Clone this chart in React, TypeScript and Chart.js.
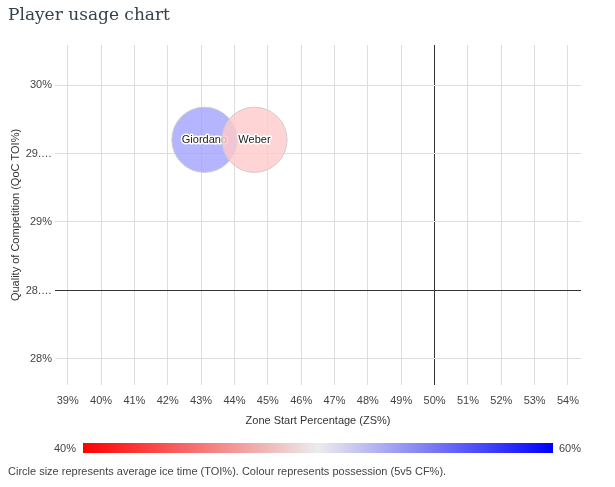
import React, { useEffect, useRef } from 'react';
import { Chart, registerables } from 'chart.js';

Chart.register(...registerables);

// ---- data ----
const players = ['Giordano', 'Weber'];
const zoneStartPct = [43.1, 44.6];
const qocToiPct = [29.6, 29.6];
const corsiForPct = [53.7, 47.9];
const bubbleRadius = [32.6, 32.6];

const xTickValues = [39, 40, 41, 42, 43, 44, 45, 46, 47, 48, 49, 50, 51, 52, 53, 54];
const xTickLabels = ['39%', '40%', '41%', '42%', '43%', '44%', '45%', '46%', '47%', '48%', '49%', '50%', '51%', '52%', '53%', '54%'];
const yTickValues = [28, 28.5, 29, 29.5, 30];
const yTickLabels = ['28%', '28.…', '29%', '29.…', '30%'];

const xReferenceLine = 50;
const yReferenceLine = 28.5;
const colourMin = 40;
const colourMax = 60;
const colourMinLabel = '40%';
const colourMaxLabel = '60%';

const FONT = '"Liberation Sans", Arial, sans-serif';
const RED = [255, 0, 0];
const MID = [255, 255, 255];
const BLUE = [0, 0, 255];

function colourFor(v: number, alpha: number) {
  const t = Math.max(0, Math.min(1, (v - colourMin) / (colourMax - colourMin)));
  let a: number[], b: number[], f: number;
  if (t < 0.5) { a = RED; b = MID; f = t / 0.5; } else { a = MID; b = BLUE; f = (t - 0.5) / 0.5; }
  const c = a.map((x, i) => Math.round(x + (b[i] - x) * f));
  return `rgba(${c[0]},${c[1]},${c[2]},${alpha})`;
}

const labelPlugin = {
  id: 'bubbleLabels',
  afterDatasetDraw(chart: any, args: any) {
    const meta = chart.getDatasetMeta(args.index);
    const ds = chart.data.datasets[args.index];
    const ctx = chart.ctx;
    ctx.save();
    ctx.font = `11px ${FONT}`;
    ctx.textAlign = 'center';
    ctx.textBaseline = 'middle';
    ctx.lineJoin = 'round';
    meta.data.forEach((el: any) => {
      ctx.lineWidth = 3;
      ctx.strokeStyle = '#ffffff';
      ctx.strokeText(ds.label, el.x, el.y);
      ctx.fillStyle = '#222222';
      ctx.fillText(ds.label, el.x, el.y);
    });
    ctx.restore();
  },
};

export default function App() {
  const ref = useRef<HTMLCanvasElement>(null);
  useEffect(() => {
    if (!ref.current) return;
    const datasets = players.map((p, i) => ({
      label: p,
      data: [{ x: zoneStartPct[i], y: qocToiPct[i], r: bubbleRadius[i] }],
      backgroundColor: colourFor(corsiForPct[i], 0.8),
      borderColor: '#cccccc',
      borderWidth: 1,
      order: players.length - i,
    }));
    const chart = new Chart(ref.current, {
      type: 'bubble',
      data: { datasets },
      plugins: [labelPlugin],
      options: {
        animation: false,
        responsive: false,
        devicePixelRatio: 1,
        events: [],
        layout: { padding: { left: 0, top: 45, right: 34, bottom: 57 } },
        plugins: { legend: { display: false }, tooltip: { enabled: false } },
        scales: {
          x: {
            type: 'linear',
            min: 38.62,
            max: 54.39,
            afterBuildTicks: (s: any) => { s.ticks = xTickValues.map((v) => ({ value: v })); },
            afterFit: (s: any) => { s.height = 45; },
            border: { display: false },
            grid: {
              drawTicks: false,
              color: (c: any) => (c.tick && c.tick.value === xReferenceLine ? '#333333' : '#dddddd'),
            },
            ticks: {
              padding: 9,
              color: '#444444',
              font: { family: FONT, size: 11 },
              maxRotation: 0,
              autoSkip: false,
              callback: (v: any) => { const i = xTickValues.indexOf(Number(v)); return i >= 0 ? xTickLabels[i] : ''; },
            },
            title: {
              display: true,
              text: 'Zone Start Percentage (ZS%)',
              color: '#333333',
              font: { family: FONT, size: 11 },
              padding: { top: 0, bottom: 2 },
            },
          },
          y: {
            type: 'linear',
            min: 27.81,
            max: 30.292,
            afterBuildTicks: (s: any) => { s.ticks = yTickValues.map((v) => ({ value: v })); },
            afterFit: (s: any) => { s.width = 55; },
            border: { display: false },
            grid: {
              drawTicks: false,
              color: (c: any) => (c.tick && c.tick.value === yReferenceLine ? '#333333' : '#dddddd'),
            },
            ticks: {
              padding: 3,
              color: '#444444',
              font: { family: FONT, size: 11 },
              autoSkip: false,
              callback: (v: any) => { const i = yTickValues.indexOf(Number(v)); return i >= 0 ? yTickLabels[i] : ''; },
            },
            title: {
              display: true,
              text: 'Quality of Competition (QoC TOI%)',
              color: '#333333',
              font: { family: FONT, size: 11 },
              padding: { top: 9, bottom: 0 },
            },
          },
        },
      },
    });
    return () => chart.destroy();
  }, []);

  const gradient = 'linear-gradient(to right, rgb(255,0,0), rgb(236,236,236) 50%, rgb(0,0,255))';

  return (
    <div style={{ position: 'absolute', left: 0, top: 0, width: 615, height: 487, background: '#fff', overflow: 'hidden' }}>
      <canvas ref={ref} width={615} height={487} style={{ position: 'absolute', left: 0, top: 0, width: 615, height: 487 }} />
      <div style={{ position: 'absolute', left: 8, top: 2, fontFamily: '"DejaVu Serif"', fontSize: 17, color: '#34424c', lineHeight: '24px', whiteSpace: 'nowrap' }}>
        Player usage chart
      </div>
      <div style={{ position: 'absolute', left: 30, width: 46, top: 441, textAlign: 'right', fontFamily: FONT, fontSize: 11, lineHeight: '14px', color: '#444' }}>{colourMinLabel}</div>
      <div style={{ position: 'absolute', left: 83, top: 443, width: 470, height: 10, background: gradient }} />
      <div style={{ position: 'absolute', left: 559, top: 441, fontFamily: FONT, fontSize: 11, lineHeight: '14px', color: '#444' }}>{colourMaxLabel}</div>
      <div style={{ position: 'absolute', left: 8, top: 464, fontFamily: FONT, fontSize: 11, lineHeight: '14px', color: '#444', whiteSpace: 'nowrap' }}>
        Circle size represents average ice time (TOI%). Colour represents possession (5v5 CF%).
      </div>
    </div>
  );
}
